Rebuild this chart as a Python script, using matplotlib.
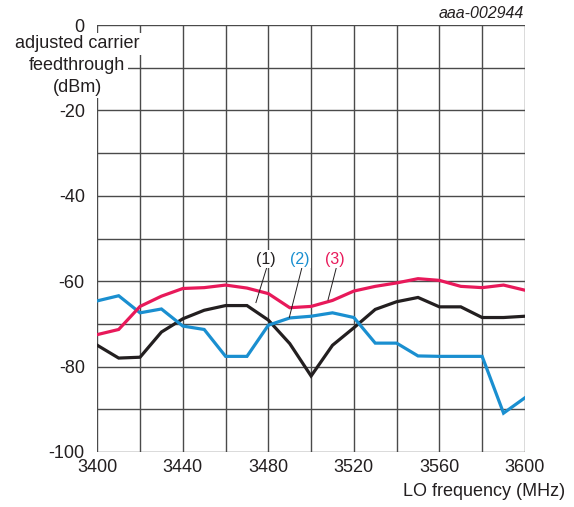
import matplotlib
matplotlib.use('Agg')
import matplotlib.pyplot as plt

plt.rcParams['font.family'] = ['Liberation Sans', 'DejaVu Sans']

# LO frequency (MHz), one point every 10 MHz
freq = [3400, 3410, 3420, 3430, 3440, 3450, 3460, 3470, 3480, 3490, 3500,
        3510, 3520, 3530, 3540, 3550, 3560, 3570, 3580, 3590, 3600]

# adjusted carrier feedthrough (dBm)
curve1 = [-75.0, -78.0, -77.8, -71.9, -68.8, -66.8, -65.7, -65.7, -69.1, -74.6, -82.2,
          -75.0, -70.9, -66.6, -64.8, -63.8, -66.0, -66.0, -68.5, -68.5, -68.2]
curve2 = [-64.6, -63.4, -67.4, -66.5, -70.5, -71.3, -77.6, -77.6, -70.3, -68.6, -68.2,
          -67.4, -68.5, -74.5, -74.5, -77.5, -77.6, -77.6, -77.6, -90.9, -87.3]
curve3 = [-72.5, -71.3, -65.9, -63.5, -61.7, -61.5, -60.9, -61.6, -62.9, -66.2, -65.9,
          -64.5, -62.3, -61.2, -60.4, -59.4, -59.8, -61.2, -61.5, -60.9, -62.1]

labels = ['(1)', '(2)', '(3)']
colors = ['#231f20', '#1a8fd0', '#e8195a']

xticks = [3400, 3440, 3480, 3520, 3560, 3600]
yticks = [0, -20, -40, -60, -80, -100]

fig = plt.figure(figsize=(5.74, 5.07), dpi=100)
ax = fig.add_axes([0.1695, 0.1085, 0.745, 0.842])

# grid every 20 MHz and 10 dB
for x in range(3400, 3601, 20):
    ax.axvline(x, color='#4a4a4a', lw=1.0, zorder=1)
for y in range(-100, 1, 10):
    ax.axhline(y, color='#4a4a4a', lw=1.0, zorder=1)

for vals, col in zip([curve1, curve2, curve3], colors):
    ax.plot(freq, vals, color=col, lw=2.3, zorder=3, solid_joinstyle='miter')

# curve labels with leader lines
label_pos = [(3479, -54.8), (3494.5, -54.8), (3510.9, -54.8)]
leaders = [((3479.8, -55.9), (3474.2, -65.0)),
           ((3496.0, -56.2), (3489.8, -68.5)),
           ((3511.7, -57.0), (3507.9, -64.4))]
for lab, col, pos, ld in zip(labels, colors, label_pos, leaders):
    ax.text(pos[0], pos[1], lab, color=col, fontsize=11.5, ha='center', va='center',
            zorder=5, bbox=dict(facecolor='white', edgecolor='none', pad=1.0))
    ax.plot([ld[0][0], ld[1][0]], [ld[0][1], ld[1][1]], color='#231f20', lw=0.7, zorder=4)

ax.set_xlim(3400, 3600)
ax.set_ylim(-100, 0)
ax.set_xticks(xticks)
ax.set_yticks(yticks)
ax.set_xticklabels([str(v) for v in xticks])
ax.set_yticklabels([str(v) for v in yticks])
ax.tick_params(length=0, labelsize=13, colors='#231f20')
ax.tick_params(axis='y', pad=9)
ax.tick_params(axis='x', pad=5)
for s in ax.spines.values():
    s.set_visible(False)

# y axis title, each line on its own white box
for txt, py in [('adjusted carrier', 44), ('feedthrough', 65), ('(dBm)', 87)]:
    fig.text(77 / 574, 1 - py / 507, txt, fontsize=13, ha='center', va='center',
             color='#231f20', zorder=10,
             bbox=dict(facecolor='white', edgecolor='none', pad=2.0))

fig.text(565 / 574, 1 - 492 / 507, 'LO frequency (MHz)', fontsize=13,
         ha='right', va='center', color='#231f20')
fig.text(524 / 574, 1 - 13 / 507, 'aaa-002944', fontsize=11.5, style='italic',
         ha='right', va='center', color='#231f20')

fig.savefig('out.png', dpi=100)
